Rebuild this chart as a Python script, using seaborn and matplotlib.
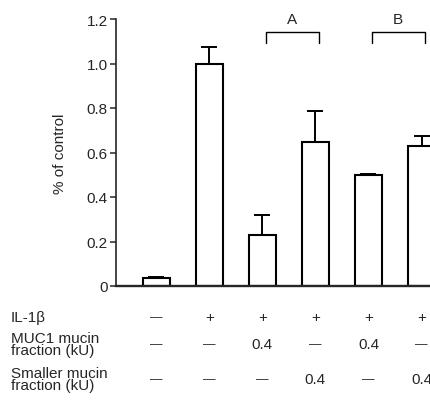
import matplotlib
matplotlib.use("Agg")
import matplotlib.pyplot as plt
import matplotlib.transforms as mtransforms
import numpy as np
import pandas as pd
import seaborn as sns

# bar values
groups = ["g1", "g2", "g3", "g4", "g5", "g6"]
values = [0.035, 1.0, 0.23, 0.646, 0.497, 0.629]
errors = [0.005, 0.073, 0.089, 0.139, 0.008, 0.046]

# treatment table under the axis
row_labels = ["IL-1β", "MUC1 mucin\nfraction (kU)", "Smaller mucin\nfraction (kU)"]
il1b = ["—", "+", "+", "+", "+", "+"]
muc1 = ["—", "—", "0.4", "—", "0.4", "—"]
smaller = ["—", "—", "—", "0.4", "—", "0.4"]

yticks = [0, 0.2, 0.4, 0.6, 0.8, 1.0, 1.2]
ytick_labels = ["0", "0.2", "0.4", "0.6", "0.8", "1.0", "1.2"]

brackets = [("A", 2, 3), ("B", 4, 5)]

sns.set_style("ticks")
plt.rcParams["font.family"] = ["Liberation Sans", "DejaVu Sans"]

df = pd.DataFrame({"group": groups, "value": values})

fig = plt.figure(figsize=(4.30, 4.14), dpi=100)
ax = fig.add_axes([116 / 430, 1 - 287 / 414, 1 - 116 / 430, 267 / 414])

sns.barplot(data=df, x="group", y="value", order=groups, color="white",
            edgecolor="black", linewidth=1.5, width=0.52, errorbar=None, ax=ax)

x = np.arange(len(groups))
ax.errorbar(x, values, yerr=[np.zeros(len(errors)), errors], fmt="none",
            ecolor="black", elinewidth=1.4, capsize=6, capthick=1.4, zorder=3)

ax.set_xlim(-0.76, 5.16)
ax.set_ylim(0, 1.2)
ax.set_yticks(yticks)
ax.set_yticklabels(ytick_labels, fontsize=11)
ax.tick_params(axis="y", length=4.5, width=1.1, pad=1.5)
ax.set_xticks([])
ax.set_xlabel("")
ax.set_ylabel("% of control", fontsize=11, labelpad=14)
for side in ["top", "right"]:
    ax.spines[side].set_visible(False)
ax.spines["left"].set_linewidth(1.2)
ax.spines["bottom"].set_linewidth(1.7)

# significance brackets
for label, a, b in brackets:
    x0, x1 = a + 0.06, b + 0.06
    ax.plot([x0, x0, x1, x1], [1.092, 1.142, 1.142, 1.092], color="black",
            lw=1.0, clip_on=False)
    ax.text((x0 + x1) / 2, 1.2, label, ha="center", va="center", fontsize=11)

# treatment table
trans = mtransforms.blended_transform_factory(ax.transData, fig.transFigure)
row_y = [1 - 318 / 414, 1 - 345 / 414, 1 - 380 / 414]
for ry, label, cells in zip(row_y, row_labels, [il1b, muc1, smaller]):
    fig.text(11 / 430, ry, label, ha="left", va="center", fontsize=11,
             linespacing=0.9)
    for xi, cell in zip(x, cells):
        size = 9 if cell == "—" else 11
        ax.text(xi, ry, cell, transform=trans, ha="center", va="center",
                fontsize=size, clip_on=False)

fig.savefig("out.png", dpi=100)
